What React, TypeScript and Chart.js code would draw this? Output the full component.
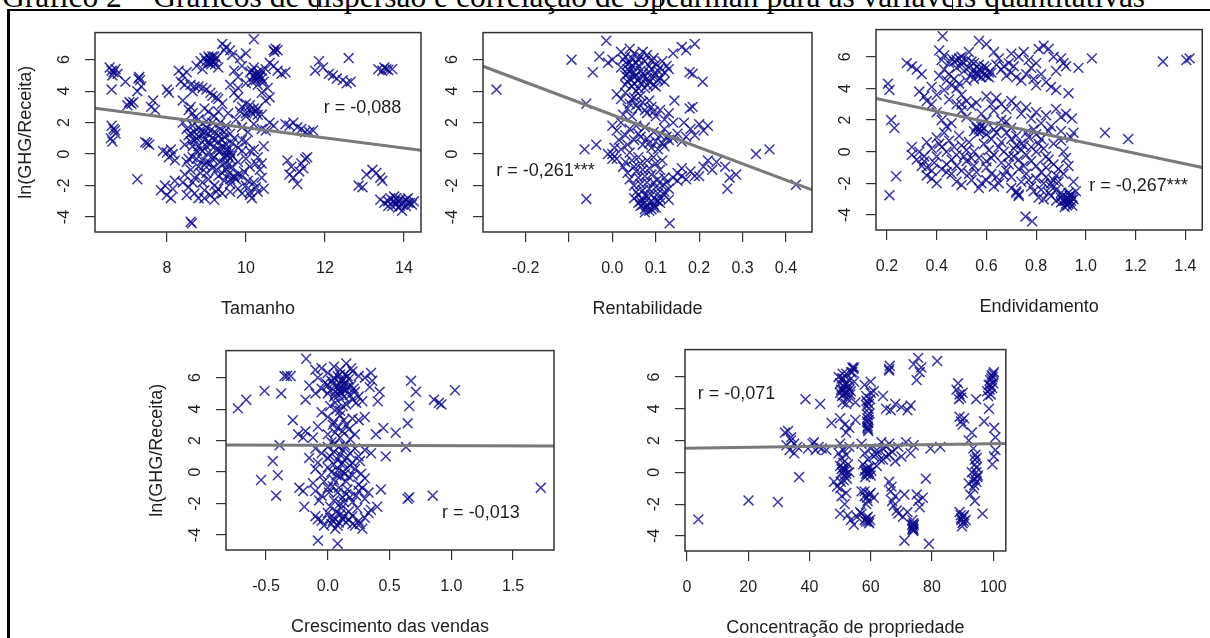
import React, { useEffect, useRef } from "react";
import { Chart, registerables } from "chart.js";

Chart.register(...registerables);

// ---------- data ----------
const yTickValues = [-4, -2, 0, 2, 4, 6];
const yTickLabels = ["-4", "-2", "0", "2", "4", "6"];
const yMin = -4.95;
const yMax = 7.72;

// Tamanho
const tamanhoTicks = [8, 10, 12, 14];
const tamanhoTickLabels = ["8", "10", "12", "14"];
const tamanhoFitX = [6.18, 14.43];
const tamanhoFitY = [2.92, 0.24];
const tamanhoPts: number[][] = [
  [6.55,5.5],[6.6,5.3],[6.65,5.2],[6.7,5.4],[6.62,5.0],[6.75,5.1],[6.6,4.1],[6.95,4.6],[7.05,3.3],[7.1,3.2],[7.0,3.1],[7.15,3.3],[7.3,4.9],[7.32,4.7],[7.28,4.8],[7.35,4.3],[7.25,4.0],[7.65,3.4],[7.7,2.8],[7.6,3.0],
  [6.6,1.8],[6.65,1.6],[6.7,1.3],[6.58,1.0],[6.62,0.8],[6.68,1.5],
  [7.25,-1.6],[7.5,0.7],[7.55,0.6],[7.45,0.75],
  [7.9,0.2],[8.0,0.1],[8.1,0.3],[8.05,-0.2],[8.2,-0.4],[8.15,0.0],
  [7.85,-2.3],[7.95,-2.0],[8.0,-2.6],[8.1,-2.8],[8.2,-1.7],[8.15,-2.2],
  [8.63,-4.4],[8.6,-4.3],
  [8.0,4.1],[8.05,3.9],[8.3,5.3],[8.4,5.0],[8.45,4.4],[8.35,4.6],[8.5,5.2],
  [8.4,2.0],[8.5,1.6],[8.55,1.2],[8.6,0.8],[8.65,1.8],[8.7,1.4],[8.75,1.0],[8.8,0.5],[8.85,1.5],[8.9,1.2],[8.95,0.9],[9.0,1.7],[9.05,1.3],[9.1,0.6],[9.15,1.0],[9.2,1.4],[9.25,0.3],[9.3,0.8],[9.35,1.6],[9.4,0.5],[9.45,1.1],[9.5,0.2],[9.55,-0.1],[9.6,-0.3],[9.5,0.0],[9.45,-0.2],[9.65,0.7],[9.7,1.0],[9.8,0.4],[9.9,0.9],
  [8.5,-0.5],[8.6,-1.0],[8.7,-1.5],[8.8,-0.8],[8.9,-1.8],[9.0,-1.2],[9.1,-0.6],[9.2,-2.0],[9.3,-1.4],[9.4,-2.5],[9.5,-1.0],[9.6,-1.9],[9.7,-1.5],[9.8,-1.3],[9.9,-1.4],[10.0,-2.0],[10.1,-2.6],[10.15,-2.8],[10.2,-1.8],[10.3,-2.4],[10.35,-1.0],[10.4,-0.6],[10.45,0.5],[10.3,-0.2],[10.2,0.3],[10.1,-0.8],
  [8.4,-1.8],[8.55,-2.1],[8.7,-2.5],[8.8,-2.8],[8.95,-2.3],[9.1,-2.6],[9.25,-2.4],[9.3,-2.2],[8.45,-1.3],[8.65,-0.2],[8.75,0.2],[8.9,-0.4],[9.05,0.1],[9.15,-0.9],[9.35,-0.5],[9.6,-1.6],[9.7,-1.4],[9.75,-1.6],
  [8.55,2.8],[8.65,2.6],[8.95,2.9],[9.05,2.7],[9.2,2.4],[9.35,2.0],[9.5,1.8],[9.6,1.3],[9.75,2.2],[9.9,1.7],[10.05,1.4],[10.2,1.9],[10.3,2.5],[10.4,1.6],[10.5,1.5],[10.6,2.0],[10.7,1.8],
  [8.75,5.6],[8.85,5.9],[8.95,6.1],[9.05,5.8],[9.1,6.0],[9.15,6.2],[9.2,5.9],[9.25,6.1],[9.12,5.7],[9.3,5.5],[8.9,5.4],
  [8.6,4.4],[8.7,4.3],[8.8,4.3],[8.9,4.2],[9.0,4.1],[9.1,3.9],[9.15,3.7],[9.25,3.6],[9.3,3.5],[8.65,4.0],
  [9.4,7.0],[9.5,6.8],[9.6,6.6],[9.65,6.3],[9.45,6.6],[10.2,7.3],[10.0,6.4],[9.85,6.1],
  [9.7,5.3],[9.8,4.9],[9.9,5.6],[10.0,4.5],[10.1,5.2],[10.2,4.9],[10.25,5.1],[10.3,4.8],[10.35,5.0],[10.4,5.3],[10.45,4.6],[10.5,5.4],[10.6,5.8],[10.7,5.6],[10.8,5.3],[10.9,5.1],[11.0,5.2],[10.15,4.6],[10.3,4.4],[10.2,5.5],
  [10.7,6.6],[10.75,6.7],[10.8,6.6],[10.72,6.5],
  [9.9,3.0],[10.0,3.2],[10.1,2.8],[10.15,2.6],[10.25,2.7],[10.3,2.9],[10.4,2.5],[10.5,3.4],[10.0,2.4],[9.8,3.6],[9.7,3.9],
  [11.0,1.9],[11.1,1.8],[11.2,2.0],[11.3,1.7],[11.4,1.6],[11.5,1.4],[11.6,1.4],[11.7,1.5],
  [11.05,-0.4],[11.1,-1.3],[11.15,-0.8],[11.2,-1.5],[11.3,-1.9],[11.4,-0.6],[11.45,-0.9],[11.5,-0.3],[11.55,-0.2],[11.35,-1.1],
  [11.85,5.9],[11.95,5.5],[12.1,5.1],[12.2,5.0],[12.3,4.8],[12.45,4.7],[12.55,4.5],[12.65,4.6],[12.6,6.1],[11.75,5.3],
  [13.35,5.4],[13.45,5.3],[13.5,5.5],[13.55,5.4],[13.6,5.35],[13.7,5.4],
  [12.95,-2.1],[13.05,-1.3],[13.2,-1.0],[13.3,-1.2],[13.4,-1.5],[13.45,-1.7],[12.85,-2.0],
  [13.4,-2.9],[13.5,-3.1],[13.6,-3.0],[13.7,-3.3],[13.75,-2.7],[13.8,-3.2],[13.85,-3.4],[13.9,-2.9],[14.0,-3.0],[14.05,-3.3],[14.1,-2.8],[14.15,-3.1],[14.2,-3.2],[13.95,-3.6],[13.65,-2.8],[14.25,-3.0],
  [8.6,1.3],[8.7,0.9],[8.8,1.7],[8.85,0.3],[8.95,1.4],[9.0,0.5],[9.05,0.8],[9.1,1.5],[9.2,0.9],[9.3,1.2],[9.35,0.2],[9.4,0.9],[9.45,1.4],[9.5,0.6],[9.55,0.3],[9.6,0.1],[8.75,-0.3],[8.85,-1.2],[8.95,-0.7],[9.05,-1.6],[9.15,-0.3],[9.25,-1.0],[9.45,-0.6],[9.55,-1.3],[9.65,-0.8],[9.8,-2.2],[9.95,-1.1],[10.05,-1.7],[10.25,-2.1],[10.1,-2.4],
  [9.0,5.9],[9.05,6.2],[9.1,5.8],[9.15,5.9],[9.2,6.2],[9.08,6.1],[9.22,5.7],
  [10.2,5.0],[10.25,4.7],[10.3,5.2],[10.35,4.9],[10.4,4.8],[10.28,5.0],[10.15,5.3],
  [13.75,-3.0],[13.85,-3.0],[13.95,-3.2],[14.05,-2.9],[13.9,-3.3],[14.1,-3.1],[13.6,-3.3],[13.8,-2.8],
  [8.8,2.2],[9.0,2.1],[9.15,2.0],[9.3,2.7],[8.7,2.3],[10.0,2.6],[10.2,2.9],[10.1,3.1],
  [8.45,0.6],[8.55,-0.3],[8.65,0.5],[8.8,1.1],[8.9,0.2],[9.0,-0.5],[9.2,-0.2],[9.3,0.3],[9.4,-1.2],[9.55,-0.7],[9.65,-0.1],[9.8,-0.5],[9.9,0.2],[10.0,-0.3],[10.0,0.8],[10.1,0.2],[10.25,-0.6],[10.4,-1.5],[10.45,-2.2],[9.9,-2.5],[9.6,-2.4],[9.45,-1.7],[9.2,-2.9],[8.95,-2.8],[8.65,-1.8],[8.5,-2.6],
  [8.4,3.4],[8.6,3.0],[9.4,3.2],[9.55,2.6],[9.85,2.7],[9.6,4.4],[9.8,4.2],[10.55,4.2],[10.6,3.6],[10.4,3.9],
];

// Rentabilidade
const rentTicks = [-0.2, -0.1, 0, 0.1, 0.2, 0.3, 0.4];
const rentTickLabels = ["-0.2", "", "0.0", "0.1", "0.2", "0.3", "0.4"];
const rentFitX = [-0.298, 0.46];
const rentFitY = [5.58, -2.27];
const rentPts: number[][] = [
  [-0.267,4.1],[-0.094,6.0],[-0.06,3.2],[-0.064,0.3],[-0.037,0.6],[-0.06,-2.85],[-0.014,7.2],
  [-0.03,6.2],[-0.01,5.8],[-0.045,5.2],[0.0,6.0],
  [0.14,6.4],[0.16,6.8],[0.17,6.6],[0.19,7.0],[0.178,5.2],[0.185,5.1],[0.208,4.6],
  [0.143,3.4],[0.178,2.9],[0.185,3.0],
  [0.21,-0.8],[0.23,-1.0],[0.24,-0.5],[0.26,-0.8],[0.27,-1.5],[0.285,-1.3],[0.265,-2.2],[0.22,-0.4],
  [0.331,0.0],[0.362,0.3],[0.423,-1.95],[0.132,-4.4],
  [0.02,6.5],[0.03,6.2],[0.04,6.7],[0.05,6.4],[0.06,6.0],[0.07,6.5],[0.08,6.3],[0.09,5.9],[0.1,5.7],[0.11,5.5],[0.12,5.2],[0.13,5.4],
  [0.02,5.5],[0.03,5.0],[0.04,5.3],[0.05,4.9],[0.06,5.6],[0.07,5.1],[0.08,4.8],[0.09,5.4],[0.1,5.0],[0.035,4.6],[0.045,4.3],[0.055,4.0],[0.065,4.5],[0.075,4.2],[0.085,4.6],[0.095,4.4],[0.11,4.8],[0.12,4.6],
  [0.04,5.8],[0.05,5.2],[0.06,4.7],[0.045,5.6],[0.055,5.0],[0.035,5.1],
  [0.01,3.8],[0.02,3.5],[0.03,3.9],[0.04,3.2],[0.05,3.6],[0.06,2.9],[0.07,3.3],[0.08,2.6],[0.09,3.0],[0.1,2.4],[0.11,2.8],[0.12,2.2],[0.13,2.6],
  [0.0,1.8],[0.01,1.5],[0.02,2.0],[0.03,1.2],[0.04,1.6],[0.05,0.9],[0.06,1.3],[0.07,0.6],[0.08,1.0],[0.09,0.4],[0.1,0.8],[0.11,1.2],[0.12,0.5],[0.13,0.9],
  [0.0,0.0],[0.01,-0.3],[0.02,0.3],[0.03,-0.5],[0.04,0.1],[0.05,-0.8],[0.06,-0.2],[0.07,-1.0],[0.08,-0.4],[0.09,-1.3],[0.1,-0.6],[0.11,-1.0],[0.12,-1.5],
  [0.04,-1.6],[0.05,-2.0],[0.06,-1.5],[0.07,-2.3],[0.08,-1.8],[0.09,-2.6],[0.1,-2.1],[0.11,-2.8],[0.12,-2.4],[0.13,-2.9],[0.14,-1.5],[0.15,-1.7],
  [0.05,-2.8],[0.06,-3.1],[0.07,-2.9],[0.08,-3.3],[0.09,-3.0],[0.1,-3.4],[0.085,-3.6],[0.075,-3.5],[0.065,-3.3],[0.095,-3.2],[0.11,-3.1],
  [0.14,1.0],[0.15,1.3],[0.16,0.8],[0.165,2.0],[0.18,1.6],[0.19,1.2],[0.2,1.9],[0.21,1.5],[0.22,1.8],[0.17,1.1],
  [0.15,-1.2],[0.17,-1.6],[0.19,-1.4],[0.16,-0.9],
  [0.025,6.0],[0.035,5.7],[0.045,6.1],[0.055,5.8],[0.065,6.2],[0.075,5.9],[0.085,5.6],[0.095,6.1],[0.105,5.3],[0.115,5.9],[0.125,5.6],[0.03,4.4],[0.04,4.8],[0.05,4.5],[0.06,4.2],[0.07,4.9],[0.08,4.4],[0.09,4.9],[0.1,4.3],[0.035,5.4],[0.065,5.3],[0.085,5.2],[0.105,4.7],
  [0.045,3.5],[0.055,3.1],[0.065,3.7],[0.075,2.8],[0.085,3.4],[0.095,2.7],[0.025,2.5],[0.035,2.9],[0.045,2.4],
  [0.055,1.8],[0.065,1.1],[0.075,1.7],[0.085,0.7],[0.095,1.4],[0.105,0.3],[0.115,0.7],[0.125,1.1],[0.035,0.6],[0.015,0.9],
  [0.025,-0.8],[0.035,-1.2],[0.045,-0.4],[0.055,-1.1],[0.065,-0.6],[0.075,-1.4],[0.085,-0.9],[0.095,-0.2],[0.105,-1.6],[0.115,-0.4],
  [0.055,-2.4],[0.065,-1.9],[0.075,-2.6],[0.085,-2.2],[0.095,-1.8],[0.105,-2.5],[0.115,-2.0],[0.125,-1.8],
  [0.06,-2.6],[0.07,-3.2],[0.08,-2.7],[0.09,-3.5],[0.1,-2.9],[0.075,-3.7],[0.085,-3.1],[0.065,-3.0],[0.095,-3.4],[0.105,-3.0],[0.12,-2.6],[0.13,-2.2],
  [0.0,-0.3],[-0.01,0.0],[0.005,0.4],[0.16,-1.4],[0.18,-1.1],[0.2,-1.4],[0.12,1.6],[0.14,2.0],
];

// Endividamento
const endivTicks = [0.2, 0.4, 0.6, 0.8, 1.0, 1.2, 1.4];
const endivTickLabels = ["0.2", "0.4", "0.6", "0.8", "1.0", "1.2", "1.4"];
const endivFitX = [0.156, 1.468];
const endivFitY = [3.37, -1.0];
const endivPts: number[][] = [
  [0.204,4.3],[0.21,3.9],[0.217,2.0],[0.23,1.5],[0.237,-1.55],[0.21,-2.75],
  [0.28,5.6],[0.3,5.4],[0.32,5.2],[0.34,4.9],[0.33,3.8],[0.36,3.2],[0.38,3.0],[0.35,3.5],
  [0.424,7.3],[0.41,6.4],[0.43,6.1],[0.42,5.8],[0.45,5.6],[0.47,5.7],[0.49,5.9],[0.5,5.5],[0.52,5.8],[0.48,5.3],
  [0.44,4.5],[0.46,4.2],[0.48,4.0],[0.5,3.6],[0.52,4.5],[0.54,4.9],[0.55,5.2],[0.56,5.0],[0.57,4.8],[0.58,5.1],[0.59,4.9],[0.6,5.3],[0.61,4.7],[0.62,5.0],[0.57,5.5],[0.55,5.6],[0.53,6.3],[0.57,7.0],[0.6,6.8],[0.63,6.3],[0.65,5.9],[0.67,5.4],[0.69,5.6],[0.7,5.0],[0.72,4.7],[0.74,4.5],[0.73,6.0],[0.75,6.3],[0.78,5.3],[0.79,4.6],[0.8,4.2],[0.81,6.5],[0.83,6.7],[0.85,6.5],[0.86,4.1],[0.88,3.9],[0.9,5.9],[0.91,5.6],[0.92,5.4],[0.97,5.3],[1.024,5.9],[0.93,3.7],[0.944,2.1],[0.92,2.4],[0.9,1.3],
  [0.4,2.5],[0.42,2.0],[0.44,1.6],[0.46,1.8],[0.5,2.6],[0.52,2.2],[0.54,2.9],[0.56,3.1],[0.58,2.4],[0.6,3.5],[0.62,3.0],[0.63,2.6],[0.48,3.0],
  [0.56,1.5],[0.57,1.4],[0.58,1.6],[0.55,1.3],[0.6,1.1],[0.62,0.8],[0.64,1.2],[0.66,0.6],[0.68,1.9],[0.7,1.5],[0.72,1.0],[0.74,0.5],[0.76,1.2],[0.78,0.3],[0.8,0.0],[0.82,0.8],[0.84,-0.3],
  [0.3,-0.2],[0.32,-0.5],[0.34,-0.9],[0.36,-1.5],[0.38,-1.2],[0.4,-0.3],[0.42,0.3],[0.44,-0.8],[0.46,-1.4],[0.48,-1.9],[0.5,-1.2],[0.52,-0.6],[0.54,-1.8],[0.56,-1.3],[0.58,-2.0],[0.6,-1.0],[0.62,-0.4],[0.64,-1.6],[0.66,-0.7],[0.68,-1.2],[0.7,-2.3],[0.72,-2.6],[0.73,-2.8],[0.74,-1.9],[0.76,-1.4],[0.78,-2.2],[0.8,-1.7],[0.82,-2.4],[0.84,-1.0],[0.86,-2.0],[0.88,-1.5],[0.9,-2.6],
  [0.36,0.6],[0.38,0.2],[0.4,0.9],[0.44,0.0],[0.48,-0.2],[0.5,0.4],[0.52,0.1],[0.54,-0.4],[0.6,-0.6],
  [0.905,-2.8],[0.91,-3.1],[0.92,-3.3],[0.925,-2.9],[0.93,-3.0],[0.935,-3.2],[0.94,-2.7],[0.945,-3.4],[0.95,-3.0],[0.915,-3.5],[0.93,-2.6],[0.9,-3.2],
  [0.757,-4.1],[0.784,-4.4],
  [1.077,1.2],[1.17,0.8],[1.31,5.7],[1.404,5.8],[1.417,5.9],
  [0.8,1.1],[0.85,1.3],[0.87,0.5],[0.9,0.7],[0.91,0.0],[0.92,-0.4],
  [0.56,4.9],[0.58,4.7],[0.6,4.8],[0.57,5.2],[0.59,5.4],[0.61,5.0],[0.55,4.6],[0.53,5.3],[0.5,5.7],[0.48,5.8],
  [0.66,1.6],[0.68,1.2],[0.7,0.8],[0.72,0.4],[0.74,0.1],[0.76,-0.2],[0.78,-0.6],[0.8,-0.9],[0.82,-1.3],[0.84,-1.6],[0.86,-2.2],[0.88,-2.4],[0.9,-2.9],[0.87,-1.8],[0.85,-2.6],[0.83,-2.0],[0.89,-1.9],
  [0.92,-3.1],[0.93,-3.3],[0.935,-2.8],[0.94,-3.1],[0.925,-3.4],[0.945,-2.9],
  [0.56,1.6],[0.57,1.2],[0.58,1.3],[0.59,1.5],[0.63,1.4],[0.66,2.0],[0.6,2.0],[0.5,3.0],[0.52,3.2],[0.45,3.3],[0.43,3.9],
  [0.72,-2.5],[0.73,-2.7],[0.7,-1.6],[0.75,-0.9],[0.62,-1.4],[0.46,-0.5],[0.42,-1.1],[0.39,-0.7],[0.35,-0.3],
  [0.38,4.1],[0.4,3.6],[0.41,4.8],[0.43,5.2],[0.45,4.9],[0.47,4.6],[0.49,4.3],[0.51,5.1],[0.46,5.9],[0.5,6.0],[0.54,5.7],[0.64,5.5],[0.66,5.2],[0.68,4.8],[0.71,5.4],[0.7,6.2],[0.77,5.8],[0.76,4.9],[0.82,4.9],[0.84,4.4],[0.88,5.1],[0.87,6.0],[0.8,5.6],
  [0.64,3.4],[0.66,3.0],[0.68,2.7],[0.7,3.2],[0.72,2.9],[0.74,2.4],[0.76,2.8],[0.78,2.1],[0.8,2.5],[0.82,1.8],[0.84,2.3],[0.86,1.6],[0.88,2.7],[0.9,2.2],[0.95,1.2],[0.94,0.9],
  [0.36,-1.0],[0.38,-1.7],[0.4,-2.0],[0.44,-1.3],[0.48,-0.9],[0.5,-2.1],[0.53,-1.4],[0.55,-0.9],[0.57,-2.3],[0.6,-1.8],[0.63,-2.2],[0.65,-2.0],[0.67,-1.5],[0.69,-0.8],[0.71,-0.3],[0.73,-1.1],[0.77,-1.8],[0.79,-2.5],[0.81,-2.9],[0.83,-3.0],[0.86,-2.8],[0.88,-3.1],
  [0.3,0.3],[0.33,0.0],[0.35,-0.6],[0.41,0.5],[0.43,1.2],[0.45,0.7],[0.47,0.3],[0.49,1.0],[0.51,-0.3],[0.53,0.6],[0.55,0.0],[0.57,-0.4],[0.59,0.5],[0.61,0.1],[0.63,-0.2],[0.65,0.3],[0.67,0.0],[0.69,-0.3],[0.71,0.2],[0.73,-0.5],[0.75,0.4],[0.77,0.9],[0.79,1.4],[0.81,0.5],[0.83,0.2],[0.85,-0.5],[0.87,-0.8],[0.89,-1.1],[0.91,-1.4],[0.93,-0.9],[0.95,-1.9],[0.96,-2.5],
];

// Crescimento das vendas
const crescTicks = [-0.5, 0, 0.5, 1.0, 1.5];
const crescTickLabels = ["-0.5", "0.0", "0.5", "1.0", "1.5"];
const crescFitX = [-0.824, 1.832];
const crescFitY = [1.72, 1.66];
const crescPts: number[][] = [
  [-0.728,4.05],[-0.66,4.6],[-0.512,5.16],[-0.377,5.0],[-0.35,6.1],[-0.33,6.1],[-0.3,6.1],[-0.283,3.3],[-0.39,1.7],
  [-0.445,0.7],[-0.404,-0.2],[-0.54,-0.5],[-0.418,-1.5],[-0.175,7.2],[-0.24,2.4],[-0.2,2.2],[-0.18,2.6],
  [-0.23,-1.0],[-0.2,-1.2],[-0.19,-2.2],[-0.08,-4.35],[0.08,-4.55],
  [0.34,5.4],[0.35,6.3],[0.36,5.8],[0.405,4.5],[0.42,5.1],[0.39,2.4],[0.45,2.8],[0.55,2.5],[0.47,1.0],
  [0.43,-1.1],[0.4,-2.2],[0.674,5.8],[0.714,5.1],[0.66,4.2],[0.647,3.1],[0.633,1.6],[0.647,-1.7],[0.66,-1.6],
  [0.85,-1.5],[0.86,4.6],[0.9,4.4],[0.92,4.3],[1.03,5.2],[1.725,-1.0],
  [-0.1,6.5],[-0.05,6.6],[0.0,6.3],[0.05,6.7],[0.1,6.5],[0.15,6.9],[0.2,6.4],[0.25,6.1],[0.3,6.0],
  [-0.1,5.0],[-0.05,5.3],[0.0,5.0],[0.02,5.2],[0.05,4.8],[0.08,5.5],[0.1,5.6],[0.12,5.3],[0.14,5.7],[0.16,5.4],[0.18,4.9],[0.2,4.6],[0.22,5.1],[0.25,4.8],[0.28,4.5],[-0.15,5.5],[-0.18,4.6],[0.06,4.4],[0.12,4.2],[0.03,5.8],[0.08,6.1],
  [0.1,5.1],[0.11,5.8],[0.13,5.5],[0.15,5.2],[0.09,4.9],[0.14,6.2],
  [-0.05,3.8],[0.0,3.5],[0.05,3.2],[0.1,3.6],[0.15,3.0],[0.2,3.4],[0.25,3.3],[0.3,3.5],[0.08,2.8],[0.12,2.6],[-0.08,2.9],[-0.12,2.2],[0.0,2.4],[0.18,2.1],
  [-0.1,1.5],[-0.05,1.2],[0.0,1.6],[0.02,1.0],[0.05,1.3],[0.08,0.8],[0.1,1.1],[0.12,1.4],[0.15,0.9],[0.18,1.2],[0.2,0.6],[0.25,1.0],[0.3,1.4],[0.35,1.2],[-0.15,0.9],
  [-0.1,0.2],[-0.05,-0.2],[0.0,0.3],[0.05,-0.5],[0.08,0.1],[0.1,-0.3],[0.12,0.0],[0.15,-0.6],[0.2,-0.2],[0.25,-0.8],[0.3,-0.4],[-0.12,-0.7],[0.18,0.4],
  [-0.1,-1.2],[-0.05,-1.5],[0.0,-1.0],[0.05,-1.8],[0.08,-1.3],[0.1,-2.0],[0.12,-1.6],[0.15,-1.4],[0.2,-1.9],[0.25,-1.2],[0.3,-1.7],[0.35,-2.4],
  [-0.1,-2.8],[-0.05,-3.1],[0.0,-2.6],[0.03,-3.3],[0.05,-2.9],[0.08,-3.4],[0.1,-2.7],[0.12,-3.0],[0.15,-3.2],[0.2,-2.8],[0.22,-3.4],[0.25,-3.1],[0.28,-3.6],[0.3,-2.9],[0.33,-2.6],[0.06,-3.6],[-0.08,-3.0],
  [0.0,5.5],[0.04,5.6],[0.06,5.1],[0.09,5.3],[0.11,5.0],[0.13,4.8],[0.17,5.9],[0.19,5.5],[0.21,5.3],[0.23,4.4],[0.1,6.2],[0.05,6.0],[-0.02,5.7],[0.12,5.9],[0.16,6.1],[0.19,6.6],[-0.08,6.0],
  [0.02,4.2],[0.07,4.0],[0.15,4.3],[0.1,3.9],[0.04,3.0],[0.13,3.3],[0.06,2.5],[0.17,2.7],[0.22,2.4],[0.1,2.2],
  [0.03,1.9],[0.06,1.8],[0.09,1.6],[0.12,0.6],[0.14,1.7],[0.22,1.5],[0.26,0.7],[-0.08,0.6],[0.0,0.9],[0.05,0.5],
  [0.03,0.0],[0.07,-0.2],[0.11,0.5],[0.14,-0.1],[0.17,-0.3],[0.22,0.2],[0.27,-0.1],[-0.03,-0.6],[0.01,-1.3],[0.04,-0.9],[0.09,-1.0],[0.13,-1.9],[0.16,-1.1],[0.18,-1.6],[0.23,-1.5],[0.28,-1.0],[0.33,-1.3],[-0.07,-1.8],[0.02,-2.2],[0.07,-2.5],[0.11,-2.3],[0.17,-2.5],[0.24,-2.3],
  [0.04,-3.1],[0.09,-3.2],[0.13,-2.8],[0.17,-3.0],[0.2,-3.3],[0.26,-3.3],[0.02,-2.9],[-0.03,-3.4],
];

// Concentração de propriedade
const concTicks = [0, 20, 40, 60, 80, 100];
const concTickLabels = ["0", "20", "40", "60", "80", "100"];
const concFitX = [-0.64, 104.1];
const concFitY = [1.52, 1.82];
const concPts: number[][] = [
  [3.7,-2.96],[20.1,-1.77],[29.7,-1.87],
  [32,2.5],[33,2.6],[34,2.2],[35,1.8],[33.5,1.4],[35,1.2],[36,1.6],[34,2.0],[32.5,1.7],
  [36.6,-0.3],[38.7,4.6],[43.5,4.3],
  [39.5,1.5],[41,1.8],[42,1.4],[43,1.6],[44,1.5],[45.5,1.4],[41.5,1.9],
  [47.2,3.1],[48,-0.6],[49,-0.9],[50,-1.0],
  [49.5,6.0],[50,5.6],[50.3,5.2],[50.6,4.8],[51,5.9],[51.3,5.4],[51.6,5.0],[52,6.2],[52.3,5.6],[52.6,4.6],[53,5.2],[53.3,4.9],[53.6,6.3],[54,6.6],[54.3,6.5],[54.6,5.7],[55,4.4],[50.8,4.4],[52,4.3],
  [50,3.4],[51.5,3.0],[53,2.8],[52,2.5],[55,3.3],
  [50,1.8],[51,1.4],[52,1.1],[53,1.6],[50.5,0.9],[49.5,1.2],
  [50,0.4],[50.6,0.0],[51,0.3],[51.4,-0.2],[51.8,0.1],[52.2,-0.4],[52.6,0.5],[50.2,-0.6],[53,0.0],
  [50.5,-1.5],[51.5,-2.0],[52.5,-2.7],[53.5,-3.0],[54.5,-3.3],[55.5,-2.8],[56.5,-2.5],[50,-2.6],[52,-1.3],
  [58,5.5],[58.5,4.8],[59,4.4],[59.3,4.0],[59.6,3.7],[60,5.0],[58.7,4.2],[60,5.7],[61,5.1],
  [58.8,3.2],[59,2.9],[59.2,2.6],[58.9,2.8],[59.1,3.1],
  [57,1.8],[58,1.2],[59,0.8],[60,1.5],[61,1.0],[62,0.4],[57.5,0.5],
  [58,0.1],[58.5,-0.1],[59,0.2],[59.5,0.0],[60,-0.2],[58.2,-0.3],
  [57,-1.2],[58,-1.5],[59,-1.8],[60,-1.3],[61,-1.6],[58.5,-2.0],
  [58,-3.0],[58.6,-2.9],[59.2,-3.1],[59.8,-3.0],[57,-2.6],
  [62,1.2],[63,0.8],[64,1.5],[65,1.0],[66,1.8],[67,1.3],[68,0.7],[63.5,1.9],
  [66,6.5],[66.2,6.7],[66,6.4],
  [64,4.8],[65,4.0],[66.5,3.9],[68,4.3],[70,4.1],[72,3.9],[73,4.2],
  [66,-0.6],[66.5,-1.2],[67,-1.8],[67.5,-2.1],[68,-1.5],[68.5,-2.4],[66.8,-0.9],
  [69,-2.6],[70.5,-2.8],[72,-2.5],[71,-1.4],
  [73.5,-3.3],[73.7,-3.5],[73.9,-3.2],[74,-3.6],[73.6,-3.0],
  [71,-4.3],[79,-4.5],
  [74,6.8],[75.5,7.2],[76.5,6.6],[75,5.8],[76,6.3],
  [81.7,7.0],
  [75,-1.4],[75.5,-1.8],[76,-2.2],[77,-1.6],
  [78,-0.4],[79.5,1.5],[82.7,1.6],
  [69,1.6],[70,1.0],[71.5,1.9],[73,1.2],[74,1.7],
  [88,5.2],[88.5,5.6],[89,4.9],[89.5,4.7],[90,5.0],[88.8,4.6],
  [89,3.5],[89.5,3.2],[90,3.0],[90.5,3.4],
  [89,-2.5],[89.5,-2.9],[90,-3.2],[90.5,-2.7],[91,-3.0],[89.8,-3.4],
  [92,2.0],[93,2.5],[93.5,1.5],[94,0.8],[94.5,0.3],[93,0.0],[94,-0.4],[94.5,-0.6],[95,-0.2],[93.5,-1.0],[92.5,-1.4],[94,-1.8],[92,-0.7],
  [94.4,4.6],[97,3.2],[96.5,-2.6],
  [98,5.1],[98.5,5.5],[99,5.8],[99.5,6.1],[100,6.2],[99.2,4.9],[98.3,4.8],[100,5.6],
  [99.7,0.5],[100.2,1.0],[100.7,1.4],[100.7,2.2],[98.6,4.0],[100.3,2.8],
  [50.5,5.9],[51,5.2],[51.5,5.6],[52,5.0],[52.5,5.4],[53,5.8],[53.5,5.1],[54,6.3],[54.5,6.6],[50,5.0],[50.8,6.2],[51.2,4.9],
  [58.9,3.4],[59.1,2.7],[59.3,3.3],[59,3.6],[59.4,4.3],[58.6,4.5],[59.8,4.6],
  [58.8,0.0],[59.2,-0.1],[59.6,0.3],[58.4,0.2],[60.2,0.1],
  [73.8,-3.4],[73.6,-3.6],[74.1,-3.3],[73.9,-3.7],
  [99,5.5],[99.4,5.9],[99.8,6.0],[100.2,6.3],[98.8,5.2],[99.6,5.3],
  [94,0.5],[94.5,0.0],[94.8,-0.3],[93.8,-0.8],[94.2,1.1],[93.3,-0.5],[94.6,0.9],
  [89.6,-3.0],[90.2,-2.8],[90.4,-3.1],[89.4,-2.7],
  [58.4,-3.1],[59,-2.8],[59.5,-3.2],
  [51,0.6],[51.5,0.2],[52,-0.1],[50.5,0.2],[51.2,-0.5],
  [58,-1.2],[58.8,-1.6],[59.5,-1.4],[62,1.4],[64,0.8],[66,1.1],[65,1.6],
];

// ---------- style / layout ----------
const SANS = "'Liberation Sans', Arial, sans-serif";
const POINT_COLOR = "rgba(8,8,138,0.8)";
const TEXT_COLOR = "#1e1e1e";
const Y_AXIS_W = 80;
const X_AXIS_H = 92;
const PAD_T = 10;
const PAD_R = 10;

type PanelSpec = {
  box: { L: number; T: number; R: number; B: number };
  xMin: number;
  xMax: number;
  ticks: number[];
  tickLabels: string[];
  pts: number[][];
  fitX: number[];
  fitY: number[];
  rText: string;
  rAt: number[];
  xTitle: string;
  yTitle?: string;
};

const panels: PanelSpec[] = [
  { box: { L: 95, T: 20, R: 421, B: 232 }, xMin: 6.18, xMax: 14.43, ticks: tamanhoTicks, tickLabels: tamanhoTickLabels, pts: tamanhoPts, fitX: tamanhoFitX, fitY: tamanhoFitY, rText: "r = -0,088", rAt: [12.95, 2.9], xTitle: "Tamanho", yTitle: "ln(GHG/Receita)" },
  { box: { L: 483, T: 20, R: 812, B: 232 }, xMin: -0.298, xMax: 0.46, ticks: rentTicks, tickLabels: rentTickLabels, pts: rentPts, fitX: rentFitX, fitY: rentFitY, rText: "r = -0,261***", rAt: [-0.154, -1.08], xTitle: "Rentabilidade" },
  { box: { L: 876, T: 17, R: 1204, B: 230 }, xMin: 0.156, xMax: 1.468, ticks: endivTicks, tickLabels: endivTickLabels, pts: endivPts, fitX: endivFitX, fitY: endivFitY, rText: "r = -0,267***", rAt: [1.212, -2.14], xTitle: "Endividamento" },
  { box: { L: 226, T: 338, R: 554, B: 550 }, xMin: -0.824, xMax: 1.832, ticks: crescTicks, tickLabels: crescTickLabels, pts: crescPts, fitX: crescFitX, fitY: crescFitY, rText: "r = -0,013", rAt: [1.24, -2.62], xTitle: "Crescimento das vendas", yTitle: "ln(GHG/Receita)" },
  { box: { L: 685, T: 337, R: 1014, B: 551 }, xMin: -0.64, xMax: 104.1, ticks: concTicks, tickLabels: concTickLabels, pts: concPts, fitX: concFitX, fitY: concFitY, rText: "r = -0,071", rAt: [16.2, 4.92], xTitle: "Concentração de propriedade" },
];

function Panel({ spec }: { spec: PanelSpec }) {
  const ref = useRef<HTMLCanvasElement | null>(null);
  const { L, T, R, B } = spec.box;
  const w = Y_AXIS_W + (R - L) + PAD_R;
  const h = PAD_T + (B - T) + X_AXIS_H;

  useEffect(() => {
    if (!ref.current) return;
    const boxPlugin = {
      id: "boxAndText",
      afterDatasetsDraw(chart: any) {
        const { ctx, chartArea, scales } = chart;
        ctx.save();
        ctx.strokeStyle = "#333";
        ctx.lineWidth = 1.5;
        ctx.strokeRect(chartArea.left, chartArea.top, chartArea.right - chartArea.left, chartArea.bottom - chartArea.top);
        ctx.fillStyle = TEXT_COLOR;
        ctx.font = `18px ${SANS}`;
        ctx.textAlign = "center";
        ctx.textBaseline = "middle";
        ctx.fillText(spec.rText, scales.x.getPixelForValue(spec.rAt[0]), scales.y.getPixelForValue(spec.rAt[1]));
        ctx.restore();
      },
    };
    const chart = new Chart(ref.current, {
      type: "scatter",
      data: {
        datasets: [
          {
            data: spec.fitX.map((x, i) => ({ x, y: spec.fitY[i] })),
            showLine: true,
            borderColor: "#7a7a7a",
            borderWidth: 3,
            pointRadius: 0,
            fill: false,
          } as any,
          {
            data: spec.pts.map((p) => ({ x: p[0], y: p[1] })),
            pointStyle: "crossRot",
            pointRadius: 7,
            borderWidth: 1.5,
            borderColor: POINT_COLOR,
            backgroundColor: POINT_COLOR,
          },
        ],
      },
      options: {
        animation: false,
        responsive: false,
        maintainAspectRatio: false,
        devicePixelRatio: 1,
        layout: { padding: { top: PAD_T, right: PAD_R, left: 0, bottom: 0 } },
        plugins: { legend: { display: false }, tooltip: { enabled: false } },
        events: [],
        scales: {
          x: {
            type: "linear",
            min: spec.xMin,
            max: spec.xMax,
            bounds: "data",
            afterBuildTicks: (s: any) => {
              s.ticks = spec.ticks.map((v) => ({ value: v }));
            },
            afterFit: (s: any) => {
              s.height = X_AXIS_H;
            },
            grid: { drawOnChartArea: false, drawTicks: true, tickLength: 10, color: "#333", lineWidth: 1.2 },
            border: { display: false },
            ticks: {
              autoSkip: false,
              minRotation: 0,
              maxRotation: 0,
              padding: 17,
              color: TEXT_COLOR,
              font: { family: SANS, size: 16 },
              callback: (_v: any, i: number) => spec.tickLabels[i],
            },
            title: {
              display: true,
              text: spec.xTitle,
              color: TEXT_COLOR,
              font: { family: SANS, size: 18 },
              padding: { top: 0, bottom: 4 },
            },
          },
          y: {
            type: "linear",
            min: yMin,
            max: yMax,
            bounds: "data",
            afterBuildTicks: (s: any) => {
              s.ticks = yTickValues.map((v) => ({ value: v }));
            },
            afterFit: (s: any) => {
              s.width = Y_AXIS_W;
            },
            grid: { drawOnChartArea: false, drawTicks: true, tickLength: 10, color: "#333", lineWidth: 1.2 },
            border: { display: false },
            ticks: {
              autoSkip: false,
              minRotation: 90,
              maxRotation: 90,
              crossAlign: "center",
              padding: 13,
              color: TEXT_COLOR,
              font: { family: SANS, size: 16 },
              callback: (_v: any, i: number) => yTickLabels[i],
            },
            title: {
              display: !!spec.yTitle,
              text: spec.yTitle || "",
              color: TEXT_COLOR,
              font: { family: SANS, size: 18 },
              padding: { top: 0, bottom: 0 },
            },
          },
        },
      } as any,
      plugins: [boxPlugin],
    });
    return () => chart.destroy();
  }, [spec]);

  return (
    <canvas
      ref={ref}
      width={w}
      height={h}
      style={{ position: "absolute", left: L - Y_AXIS_W, top: T - PAD_T, width: w, height: h }}
    />
  );
}

export default function App() {
  return (
    <div style={{ position: "fixed", left: 0, top: 0, width: 1210, height: 638, overflow: "hidden", background: "#fff" }}>
      <div
        style={{
          position: "absolute",
          left: 2,
          top: -19,
          fontFamily: "'Liberation Serif', 'Times New Roman', serif",
          fontSize: 31.5,
          lineHeight: 1,
          whiteSpace: "nowrap",
          color: "#000",
        }}
      >
        Gráfico 2 – Gráficos de dispersão e correlação de Spearman para as variáveis quantitativas
      </div>
      <div style={{ position: "absolute", left: 317, top: 0, width: 1, height: 9, background: "#000" }} />
      <div style={{ position: "absolute", left: 660, top: 0, width: 1, height: 9, background: "#000" }} />
      <div style={{ position: "absolute", left: 952, top: 0, width: 1, height: 9, background: "#000" }} />
      <div style={{ position: "absolute", left: 7, top: 9, width: 1203, height: 2, background: "#000" }} />
      <div style={{ position: "absolute", left: 7, top: 9, width: 3, height: 629, background: "#000" }} />
      {panels.map((p, i) => (
        <Panel key={i} spec={p} />
      ))}
    </div>
  );
}
